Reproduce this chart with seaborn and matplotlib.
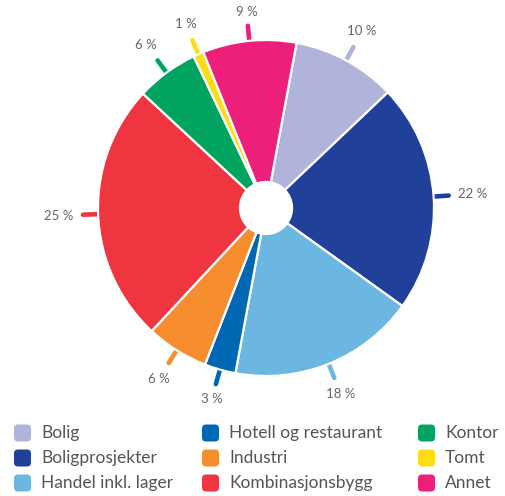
import numpy as np
import matplotlib
matplotlib.use("Agg")
import matplotlib.pyplot as plt
import seaborn as sns
from matplotlib.patches import FancyBboxPatch

categories = ["Bolig", "Boligprosjekter", "Handel inkl. lager", "Hotell og restaurant",
              "Industri", "Kombinasjonsbygg", "Kontor", "Tomt", "Annet"]
values = [10, 22, 18, 3, 6, 25, 6, 1, 9]
colors = ["#b0b3da", "#21409a", "#6cb6e2", "#0067b2", "#f68e2f",
          "#ee3540", "#00a460", "#ffdd15", "#ec1f7b"]
labels = [f"{v} %" for v in values]

sns.set_theme(style="white")
plt.rcParams['font.family'] = ['Lato', 'DejaVu Sans']

W, H = 506, 496
fig = plt.figure(figsize=(W / 100, H / 100), dpi=100)
cx, cy, R = 266, 208, 168
ax = fig.add_axes([(cx - R) / W, (H - cy - R) / H, 2 * R / W, 2 * R / H])

start = 90 - 10.5
wedges, _ = ax.pie(values, colors=colors, startangle=start, counterclock=False,
                   wedgeprops=dict(width=1 - 0.155, edgecolor="white", linewidth=1.6),
                   radius=1.0)
for w in wedges:
    w.set_zorder(3)

total = sum(values)
cum = 0
for v, c, lab in zip(values, colors, labels):
    mid = np.deg2rad(start - 360 * (cum + v / 2) / total)
    cum += v
    ux, uy = np.cos(mid), np.sin(mid)
    ax.plot([0.95 * ux, 1.09 * ux], [0.95 * uy, 1.09 * uy], color=c, lw=3.3,
            solid_capstyle="round", zorder=2, clip_on=False)
    r = 1.165 + 0.07 * abs(ux)
    ax.text(r * ux, r * uy, lab, ha="center", va="center", fontsize=9.5,
            color="#666666", zorder=4)

ax.set_xlim(-1, 1)
ax.set_ylim(-1, 1)
ax.set_aspect("equal")
ax.axis("off")

# legend
col_x = [14, 202, 418]
row_y = [433, 458, 483]
sz = 17
for i, (cat, c) in enumerate(zip(categories, colors)):
    col, row = divmod(i, 3)
    x0, y0 = col_x[col], row_y[row]
    p = FancyBboxPatch(((x0) / W, (H - y0 - sz / 2) / H), sz / W, sz / H,
                       boxstyle="round,pad=0,rounding_size=0.008",
                       transform=fig.transFigure, facecolor=c, edgecolor="none",
                       mutation_aspect=W / H)
    fig.patches.append(p)
    fig.text((x0 + 27) / W, (H - y0) / H, cat, ha="left", va="center",
             fontsize=12.5, color="#555555")

fig.savefig("out.png", dpi=100)
